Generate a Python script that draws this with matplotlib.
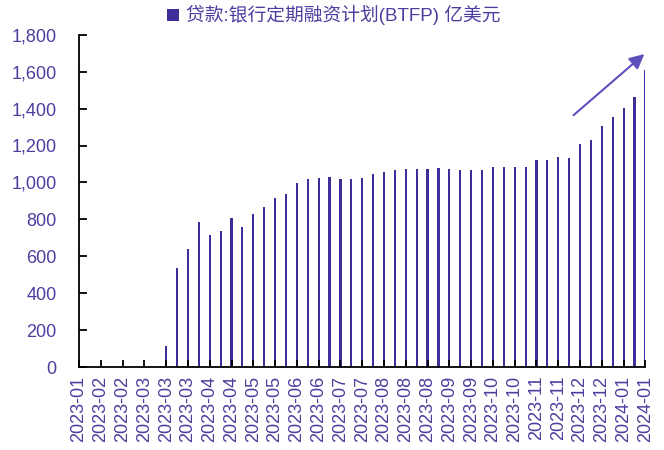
import matplotlib.pyplot as plt
from matplotlib.ticker import FuncFormatter

plt.rcParams["font.family"] = ["Liberation Sans", "Noto Sans CJK SC", "DejaVu Sans"]

# weekly BTFP balance, 100m USD (zero before the programme started)
btfp = [0, 0, 0, 0, 0, 0, 0, 0,
        115, 536, 642, 788, 716, 738, 810, 758, 831, 868,
        915, 936, 999, 1019, 1024, 1030, 1019, 1019, 1024, 1046,
        1055, 1066, 1071, 1071, 1071, 1077, 1075, 1068, 1068, 1068,
        1085, 1085, 1085, 1085, 1122, 1122, 1139, 1133, 1209, 1232,
        1306, 1353, 1405, 1463, 1609]

tick_labels = ["2023-01", "2023-02", "2023-02", "2023-03", "2023-03", "2023-03",
               "2023-04", "2023-04", "2023-05", "2023-05", "2023-06", "2023-06",
               "2023-07", "2023-07", "2023-08", "2023-08", "2023-08", "2023-09",
               "2023-09", "2023-10", "2023-10", "2023-11", "2023-11", "2023-12",
               "2023-12", "2024-01", "2024-01"]

bar_color = "#3d2e9a"
text_color = "#4b3f9f"

fig = plt.figure(figsize=(6.64, 4.5), dpi=100)
ax = fig.add_axes([0.119, 0.184, 0.853, 0.739])

weeks = list(range(len(btfp)))
ax.bar(weeks, btfp, width=0.2, color=bar_color, label="贷款:银行定期融资计划(BTFP) 亿美元")

ax.annotate("", xy=(51.9, 1695), xytext=(45.4, 1364),
            arrowprops=dict(arrowstyle="-|>", color="#5d50bd", lw=1.5,
                            mutation_scale=22, shrinkA=0, shrinkB=0))

ax.set_xlim(0, 52)
ax.set_ylim(0, 1800)
ax.set_yticks(range(0, 1801, 200))
ax.yaxis.set_major_formatter(FuncFormatter(lambda v, p: f"{int(v):,}"))
ax.set_xticks(weeks[::2])
ax.set_xticklabels(tick_labels, rotation=90)

ax.tick_params(axis="both", direction="in", colors="black", labelcolor=text_color,
               labelsize=13, width=1.3)
ax.tick_params(axis="y", length=6, pad=16)
ax.tick_params(axis="x", length=5, pad=6)

for side in ("top", "right"):
    ax.spines[side].set_visible(False)
for side in ("left", "bottom"):
    ax.spines[side].set_linewidth(1.3)

leg = ax.legend(loc="lower center", bbox_to_anchor=(0.45, 1.0), frameon=False,
                fontsize=13.5, handlelength=0.6, handleheight=0.6, handletextpad=0.4,
                borderaxespad=0.1)
for t in leg.get_texts():
    t.set_color(text_color)

fig.savefig("out.png", dpi=100)
plt.close(fig)
